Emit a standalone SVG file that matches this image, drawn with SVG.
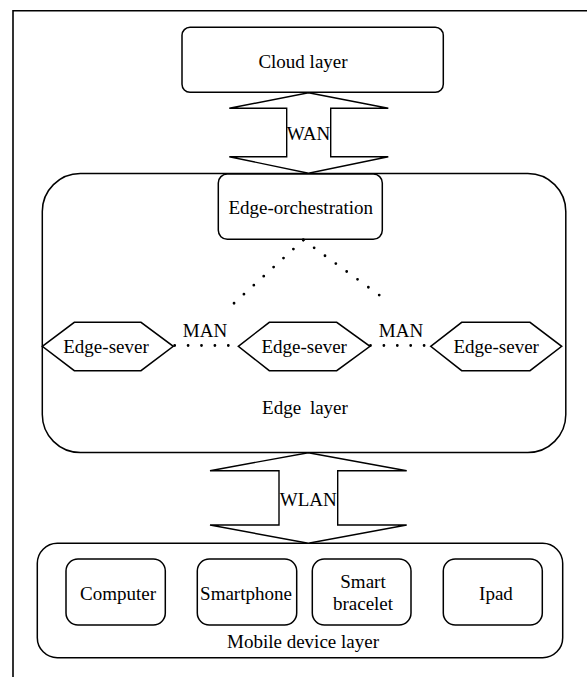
<svg xmlns="http://www.w3.org/2000/svg" width="587" height="677" viewBox="0 0 587 677">
<style>
  .box{fill:#fff;stroke:#000;stroke-width:1.5}
  .arrow{fill:#fff;stroke:#000;stroke-width:1.4;stroke-linejoin:miter}
  .dots{fill:none;stroke:#000;stroke-width:2.8;stroke-linecap:round;stroke-dasharray:0 13.4}
  .t{font-size:19px;fill:#000;text-anchor:middle}
  .frame{fill:none;stroke:#000;stroke-width:1.6}
</style>
<rect width="587" height="677" fill="#fff"/>
<path class="frame" d="M13,677 L13,10.7 L587,10.7"/>
<g font-family="Liberation Serif, DejaVu Serif, serif">
<g id="edge-layer">
  <rect class="box" x="42.3" y="173.5" width="523.5" height="279" rx="38" ry="38"/>
  <text class="t" x="305" y="414" word-spacing="4">Edge layer</text>
</g>

<g id="cloud-layer">
  <rect class="box" x="182" y="27.3" width="261.3" height="65" rx="8" ry="8"/>
  <text class="t" x="303" y="67.7">Cloud layer</text>
</g>

<g id="edge-orchestration">
  <rect class="box" x="218.3" y="174" width="164" height="65.3" rx="9" ry="9"/>
  <text class="t" x="300.7" y="214.3">Edge-orchestration</text>
</g>

<g id="edge-sever-1">
  <polygon class="box" points="42.3,346.3 74.3,322.3 141,322.3 173.3,346.3 141,370.7 74.3,370.7"/>
  <text class="t" x="106" y="353.3">Edge-sever</text>
</g>
<g id="edge-sever-2">
  <polygon class="box" points="238.3,346.3 269.3,322.3 336.7,322.3 370,346.3 336.7,370.7 269.3,370.7"/>
  <text class="t" x="304.2" y="353.3">Edge-sever</text>
</g>
<g id="edge-sever-3">
  <polygon class="box" points="430.7,346.3 461.7,322.3 530,322.3 561.7,346.3 530,370.7 461.7,370.7"/>
  <text class="t" x="496.2" y="353.3">Edge-sever</text>
</g>

<g id="mobile-device-layer">
  <rect class="box" x="37.3" y="543.3" width="525.4" height="114.4" rx="20" ry="20"/>
  <text class="t" x="303" y="648.3">Mobile device layer</text>
</g>
<g id="computer">
  <rect class="box" x="66" y="559" width="99.3" height="66" rx="12" ry="12"/>
  <text class="t" x="118" y="600">Computer</text>
</g>
<g id="smartphone">
  <rect class="box" x="197.3" y="559" width="99.4" height="66" rx="12" ry="12"/>
  <text class="t" x="246" y="600">Smartphone</text>
</g>
<g id="smart-bracelet">
  <rect class="box" x="312.3" y="559" width="98.7" height="66" rx="12" ry="12"/>
  <text class="t" x="363" y="587.7">Smart</text>
  <text class="t" x="363" y="610">bracelet</text>
</g>
<g id="ipad">
  <rect class="box" x="443.3" y="559" width="99" height="66" rx="12" ry="12"/>
  <text class="t" x="496" y="600">Ipad</text>
</g>

<g id="connectors">
  <g id="wan">
    <polygon class="arrow" points="308.5,92.7 388.3,108.3 330.7,108.3 330.7,156.7 388.3,156.7 308.5,173.3 229.3,156.7 286.7,156.7 286.7,108.3 229.3,108.3"/>
    <text class="t" x="308.5" y="140">WAN</text>
  </g>
  <g id="wlan">
    <polygon class="arrow" points="308.3,452.7 406.7,470.7 337.7,470.7 337.7,525 406.7,525 308.3,543.3 210,525 279,525 279,470.7 210,470.7"/>
    <text class="t" x="308.3" y="506">WLAN</text>
  </g>
  <line class="dots" x1="303.3" y1="240" x2="234" y2="303.3"/>
  <line class="dots" x1="303.3" y1="240" x2="388.3" y2="301.7"/>
  <line class="dots" x1="174.7" y1="345.5" x2="229" y2="345.5"/>
  <text class="t" x="205" y="337.3">MAN</text>
  <line class="dots" x1="370.5" y1="345.5" x2="427" y2="345.5"/>
  <text class="t" x="401" y="337.3">MAN</text>
</g>
</g>
</svg>
